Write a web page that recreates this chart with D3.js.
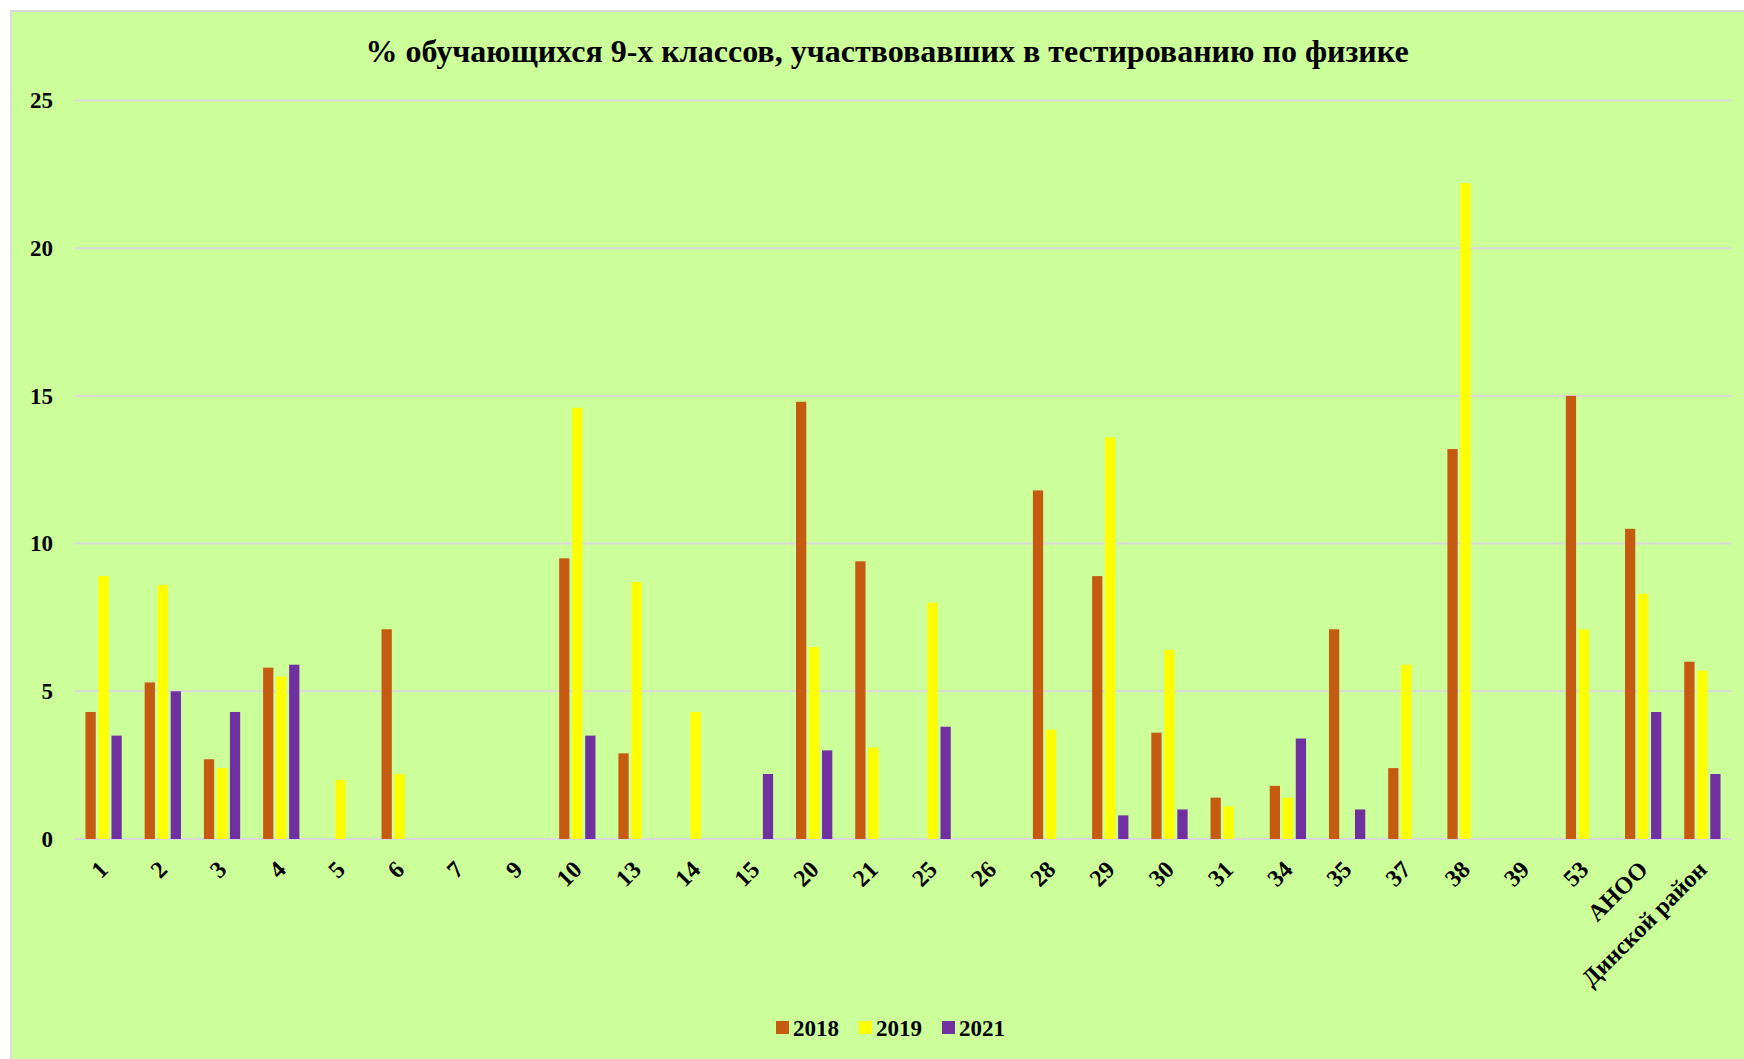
<!DOCTYPE html>
<html>
<head>
<meta charset="utf-8">
<script src="https://cdn.jsdelivr.net/npm/d3@7"></script>
<style>
  body { margin: 0; background: #fff; }
  text { font-family: "Liberation Serif", "Times New Roman", serif; font-weight: bold; }
</style>
</head>
<body>
<div id="chart"></div>
<script>
// dimensions
var width = 1744
var height = 1059

// data
var categories = ["1", "2", "3", "4", "5", "6", "7", "9", "10", "13", "14", "15", "20", "21", "25", "26",
                  "28", "29", "30", "31", "34", "35", "37", "38", "39", "53", "АНОО", "Динской район"]
var series = ["2018", "2019", "2021"]
var values2018 = [4.3, 5.3, 2.7, 5.8, 0, 7.1, 0, 0, 9.5, 2.9, 0, 0, 14.8, 9.4, 0, 0,
                  11.8, 8.9, 3.6, 1.4, 1.8, 7.1, 2.4, 13.2, 0, 15.0, 10.5, 6.0]
var values2019 = [8.9, 8.6, 2.4, 5.5, 2.0, 2.2, 0, 0, 14.6, 8.7, 4.3, 0, 6.5, 3.1, 8.0, 0,
                  3.7, 13.6, 6.4, 1.1, 1.4, 0, 5.9, 22.2, 0, 7.1, 8.3, 5.7]
var values2021 = [3.5, 5.0, 4.3, 5.9, 0, 0, 0, 0, 3.5, 0, 0, 2.2, 3.0, 0, 3.8, 0,
                  0, 0.8, 1.0, 0, 3.4, 1.0, 0, 0, 0, 0, 4.3, 2.2]
var yTicks = [0, 5, 10, 15, 20, 25]
var colors = ["#C55A11", "#FFFF00", "#7030A0"]
var title = "% обучающихся 9-х классов, участвовавших в тестированию по физике"

var allValues = [values2018, values2019, values2021]

var svg = d3.select("#chart")
  .append("svg")
  .attr("width", width)
  .attr("height", height)

// chart area background
svg.append("rect")
  .attr("x", 11)
  .attr("y", 11)
  .attr("width", width)
  .attr("height", height)
  .attr("fill", "#CCFF99")
  .attr("stroke", "#D9D9D9")
  .attr("stroke-width", 2)

// scales
var x = d3.scaleBand()
  .domain(categories)
  .range([74, 1732])
  .padding(0)

var groupWidth = 36.3
var x1 = d3.scaleBand()
  .domain(series)
  .range([0, groupWidth])
  .paddingInner(0.21)

var y = d3.scaleLinear()
  .domain([0, 25])
  .range([839, 100.5])

// gridlines
svg.append("g")
  .selectAll("line")
  .data(yTicks)
  .enter()
  .append("line")
  .attr("x1", 74)
  .attr("x2", 1732)
  .attr("y1", function(d) { return y(d) })
  .attr("y2", function(d) { return y(d) })
  .attr("stroke", "#D9D9D9")
  .attr("stroke-width", 2)

// y axis labels
var yAxis = d3.axisLeft(y)
  .tickValues(yTicks)
  .tickSize(0)
  .tickPadding(0)
svg.append("g")
  .attr("transform", "translate(53,0)")
  .call(yAxis)
  .call(function(g) { g.select(".domain").remove() })
  .selectAll("text")
  .attr("font-family", "Liberation Serif, Times New Roman, serif")
  .attr("font-size", "23px")
  .attr("font-weight", "bold")
  .attr("fill", "#000")

// bars
var offset = (x.bandwidth() - groupWidth) / 2
series.forEach(function(s, i) {
  svg.append("g")
    .selectAll("rect")
    .data(categories)
    .enter()
    .append("rect")
    .attr("x", function(d) { return x(d) + offset + x1(s) })
    .attr("y", function(d, j) { return y(allValues[i][j]) })
    .attr("width", x1.bandwidth())
    .attr("height", function(d, j) { return y(0) - y(allValues[i][j]) })
    .attr("fill", colors[i])
})

// x axis labels, rotated
var xAxis = d3.axisBottom(x)
  .tickSize(0)
  .tickPadding(0)
svg.append("g")
  .attr("transform", "translate(0,839)")
  .call(xAxis)
  .call(function(g) { g.select(".domain").remove() })
  .selectAll("text")
  .attr("font-family", "Liberation Serif, Times New Roman, serif")
  .attr("font-size", "24px")
  .attr("font-weight", "bold")
  .attr("fill", "#000")
  .attr("text-anchor", "end")
  .attr("dy", null)
  .attr("y", 0)
  .attr("transform", "translate(6,32) rotate(-45)")

// title
svg.append("text")
  .attr("x", 887)
  .attr("y", 62)
  .attr("text-anchor", "middle")
  .attr("font-size", "32px")
  .attr("fill", "#000")
  .text(title)

// legend
var legend = svg.append("g")
  .selectAll("g")
  .data(series)
  .enter()
  .append("g")
  .attr("transform", function(d, i) { return "translate(" + (776 + i * 83) + ",1021)" })
legend.append("rect")
  .attr("width", 13)
  .attr("height", 13)
  .attr("fill", function(d, i) { return colors[i] })
legend.append("text")
  .attr("x", 17)
  .attr("y", 15)
  .attr("font-size", "23px")
  .attr("fill", "#000")
  .text(function(d) { return d })
</script>
</body>
</html>
